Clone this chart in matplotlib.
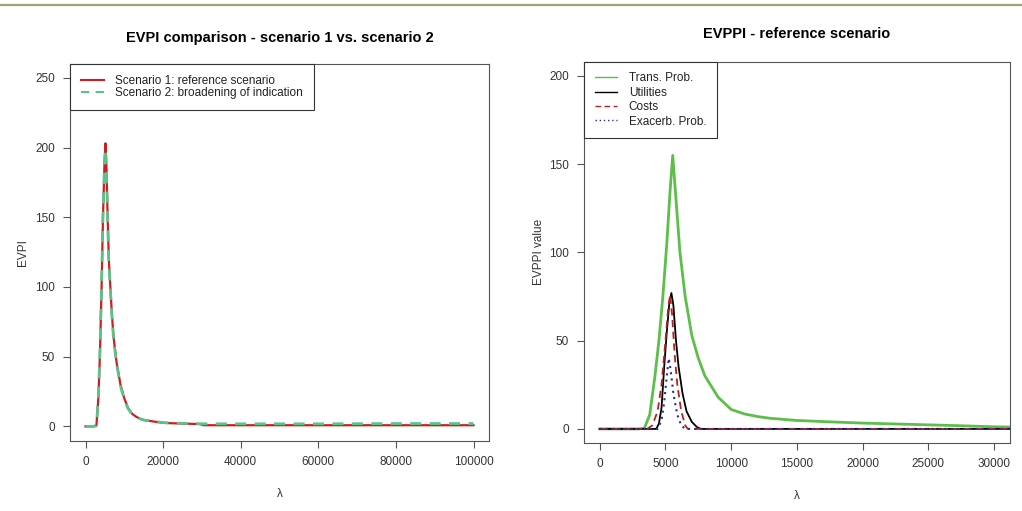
import numpy as np
import matplotlib.pyplot as plt
from matplotlib.lines import Line2D

plt.rcParams['font.family'] = ['Liberation Sans', 'DejaVu Sans']

# left panel: EVPI of the two scenarios
lam1 = [0, 1000, 2000, 2800, 3300, 3700, 4100, 4500, 4900, 5150, 5400, 5700, 6000,
        6400, 6800, 7200, 7600, 8000, 9000, 10000, 11000, 12000, 13000, 14000, 15000,
        17500, 20000, 22500, 25000, 27500, 29500, 30500, 40000, 50000, 60000, 70000,
        80000, 90000, 100000]
evpi_s1 = [0, 0, 0, 0.5, 20, 50, 95, 150, 190, 203, 185, 150, 120,
           100, 80, 65, 55, 46, 30, 20, 13, 9, 7, 5.5, 4.5,
           3.5, 2.5, 2.2, 2.0, 1.8, 1.6, 0.8, 0.8, 0.8, 0.8, 0.8,
           0.8, 0.8, 0.8]
evpi_s2 = [0, 0, 0, 0.5, 20, 52, 98, 152, 188, 199, 182, 148, 118,
           98, 79, 64, 54, 45, 29, 19, 12.5, 8.8, 7, 5.5, 4.6,
           3.6, 2.7, 2.4, 2.2, 2.0, 1.9, 1.8, 1.8, 1.8, 1.8, 1.9,
           2.0, 2.0, 2.0]

# right panel: EVPPI by parameter group
lam_tp = [0, 1000, 2000, 3000, 3400, 3800, 4200, 4500, 4800, 5100, 5350, 5550, 5800,
          6100, 6500, 7000, 7500, 8000, 9000, 10000, 11000, 12000, 13000, 15000,
          17500, 20000, 22500, 25000, 27500, 30000, 32000]
evppi_tp = [0, 0, 0, 0, 0.5, 8, 30, 50, 75, 105, 135, 155, 130,
            100, 75, 53, 40, 30, 18, 11, 8.5, 7, 6, 4.8,
            4, 3.3, 2.8, 2.3, 1.8, 1.2, 1.0]

lam_ut = [0, 2000, 4300, 4500, 4700, 4900, 5100, 5300, 5450, 5600, 5800, 6000,
          6300, 6600, 7000, 7400, 7700, 10000, 20000, 32000]
evppi_ut = [0, 0, 0, 3, 12, 35, 55, 72, 77, 70, 50, 35,
            20, 10, 4, 1, 0, 0, 0, 0]

lam_co = [0, 2000, 3600, 4000, 4400, 4700, 5000, 5200, 5350, 5500, 5700, 5900,
          6200, 6500, 6700, 10000, 20000, 32000]
evppi_co = [0, 0, 0, 2, 10, 25, 50, 68, 76, 65, 42, 25,
            10, 2, 0, 0, 0, 0]

lam_ex = [0, 2000, 4400, 4700, 4900, 5100, 5250, 5400, 5600, 5900, 6200, 6500,
          10000, 20000, 32000]
evppi_ex = [0, 0, 0, 5, 15, 30, 40, 33, 20, 8, 2, 0,
            0, 0, 0]

fig = plt.figure(figsize=(10.22, 5.11), dpi=100)

# olive rule across the top of the slide
fig.add_artist(Line2D([0, 1], [0.99, 0.99], color='#a3a565', lw=1.6))

ax1 = fig.add_axes([0.0685, 0.137, 0.41, 0.738])
ax2 = fig.add_axes([0.5714, 0.133, 0.4168, 0.746])

ax1.plot(lam1, evpi_s1, color='#cc1f1f', lw=1.6, label='Scenario 1: reference scenario')
ax1.plot(lam1, evpi_s2, color='#5cc28c', lw=2.0, dashes=(4, 3),
         label='Scenario 2: broadening of indication')
ax1.set_xlim(-4000, 104000)
ax1.set_ylim(-10.5, 260)
ax1.set_xticks([0, 20000, 40000, 60000, 80000, 100000])
ax1.set_yticks([0, 50, 100, 150, 200, 250])
ax1.set_ylabel('EVPI', fontsize=8.5, labelpad=4)
ax1.set_xlabel('λ', fontsize=8.5, labelpad=14)
ax1.set_title('EVPI comparison - scenario 1 vs. scenario 2', fontsize=10.5,
              fontweight='bold', pad=16)

ax2.plot(lam_tp, evppi_tp, color='#5cbf4a', lw=2.0, label='Trans. Prob.')
ax2.plot(lam_ut, evppi_ut, color='black', lw=1.3, label='Utilities')
ax2.plot(lam_co, evppi_co, color='#b22222', lw=1.3, dashes=(4, 2.5), label='Costs')
ax2.plot(lam_ex, evppi_ex, color='#23309a', lw=1.5, dashes=(1, 2), label='Exacerb. Prob.')
ax2.set_xlim(-1200, 31200)
ax2.set_ylim(-8, 208)
ax2.set_xticks([0, 5000, 10000, 15000, 20000, 25000, 30000])
ax2.set_yticks([0, 50, 100, 150, 200])
ax2.set_ylabel('EVPPI value', fontsize=8.5, labelpad=3)
ax2.set_xlabel('λ', fontsize=8.5, labelpad=14)
ax2.set_title('EVPPI - reference scenario', fontsize=10.5, fontweight='bold', pad=17)

for ax in (ax1, ax2):
    for s in ax.spines.values():
        s.set_color('#555555')
        s.set_linewidth(0.8)
    ax.tick_params(direction='out', length=5, width=0.8, color='#555555',
                   labelsize=8.5, labelcolor='#333333', pad=6)
    ax.xaxis.label.set_color('#333333')
    ax.yaxis.label.set_color('#333333')

leg1 = ax1.legend(loc='upper left', bbox_to_anchor=(0, 1), borderaxespad=0,
                  fontsize=8.5, fancybox=False, edgecolor='#333333', framealpha=1,
                  handlelength=1.9, handletextpad=1.0, labelspacing=0.0,
                  borderpad=0.95)
leg1.get_frame().set_linewidth(0.8)
for ln in leg1.get_lines():
    ln.set_linewidth(1.5)
leg2 = ax2.legend(loc='upper left', bbox_to_anchor=(0, 1), borderaxespad=0,
                  fontsize=8.5, fancybox=False, edgecolor='#333333', framealpha=1,
                  handlelength=1.9, handletextpad=1.0, labelspacing=0.2,
                  borderpad=0.9)
leg2.get_frame().set_linewidth(0.8)
for ln in leg2.get_lines():
    ln.set_linewidth(1.0)
for leg in (leg1, leg2):
    for t in leg.get_texts():
        t.set_color('#222222')

fig.savefig('out.png', dpi=100)
